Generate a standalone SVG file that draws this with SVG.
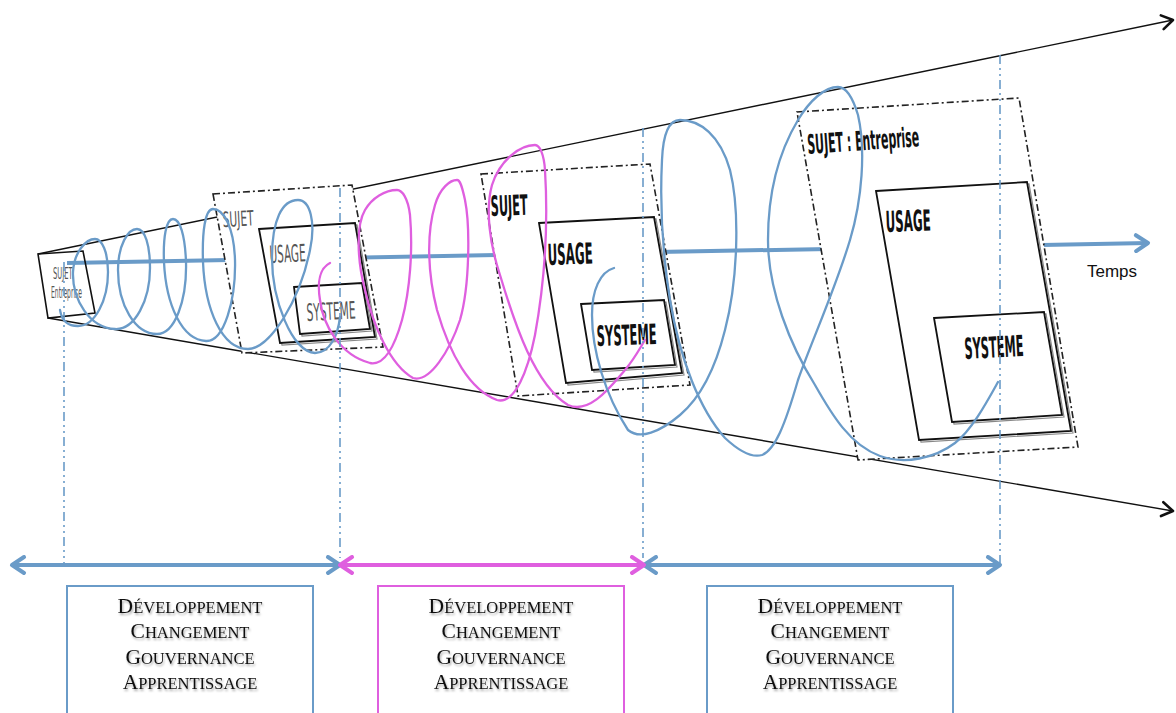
<svg xmlns="http://www.w3.org/2000/svg" width="1176" height="713" viewBox="0 0 1176 713">
<style>
.cone{fill:none;stroke:#111;stroke-width:1.4}
.axis{fill:none;stroke:#6a9bc8;stroke-width:4}
.outer{fill:#fff;stroke:#222;stroke-width:1.6;stroke-dasharray:7 3 2 3}
.inner{fill:#fff;stroke:#111;stroke-width:1.8}
.innersh{fill:none;stroke:#888;stroke-width:1.2}
.lbl{font-family:'DejaVu Sans Condensed','DejaVu Sans',sans-serif;font-stretch:condensed;fill:#111;font-weight:bold}
.lblg{font-family:'DejaVu Sans Condensed','DejaVu Sans',sans-serif;font-stretch:condensed;fill:#555}
.coilb{fill:none;stroke:#6a9bc8;stroke-width:2.3;stroke-linecap:round}
.coilm{fill:none;stroke:#df5fdf;stroke-width:2.3;stroke-linecap:round}
.vl{fill:none;stroke:#6a9bc8;stroke-width:1.6;stroke-dasharray:9 4 2 4 2 4}
.barb{fill:none;stroke:#6a9bc8;stroke-width:4}
.barm{fill:none;stroke:#df5fdf;stroke-width:4}
.boxb{fill:#fff;stroke:#6a9bc8;stroke-width:2}
.boxm{fill:#fff;stroke:#df5fdf;stroke-width:2}
.sc{font-family:'Liberation Serif','Times New Roman',serif;font-size:16.5px;fill:#111;filter:url(#tsh)}
.temps{font-family:'Liberation Sans',Arial,sans-serif;font-size:17px;fill:#111}
</style>
<defs>
<filter id="tsh" x="-10%" y="-30%" width="120%" height="160%">
<feDropShadow dx="1" dy="2" stdDeviation="1.3" flood-color="#000" flood-opacity="0.35"/>
</filter>
<marker id="ahB" markerUnits="userSpaceOnUse" markerWidth="20" markerHeight="20" refX="15" refY="10" orient="auto-start-reverse" viewBox="0 0 20 20">
<path d="M3,2 L15,10 L3,18" fill="none" stroke="#6a9bc8" stroke-width="4" stroke-linecap="round" stroke-linejoin="round"/>
</marker>
<marker id="ahM" markerUnits="userSpaceOnUse" markerWidth="20" markerHeight="20" refX="15" refY="10" orient="auto-start-reverse" viewBox="0 0 20 20">
<path d="M3,2 L15,10 L3,18" fill="none" stroke="#df5fdf" stroke-width="4" stroke-linecap="round" stroke-linejoin="round"/>
</marker>
<marker id="ahK" markerUnits="userSpaceOnUse" markerWidth="18" markerHeight="18" refX="14" refY="9" orient="auto" viewBox="0 0 18 18">
<path d="M3,2 L14,9 L3,16" fill="none" stroke="#111" stroke-width="2.6" stroke-linecap="round" stroke-linejoin="round"/>
</marker>
</defs>
<rect width="1176" height="713" fill="#fff"/>

<g id="connectors">
<path class="cone" d="M38,254 L1173,20" marker-end="url(#ahK)"/>
<path class="cone" d="M48,318 L1173,511" marker-end="url(#ahK)"/>
<path class="axis" d="M67,263 L1148,243" marker-end="url(#ahB)"/>
</g>

<g id="node-sujet-small">
<polygon points="38,254 83,251 95,313 48,318" fill="none" stroke="#111" stroke-width="1.6"/>
<text class="lblg" x="53" y="279" font-size="15" textLength="21" lengthAdjust="spacingAndGlyphs" fill="#888">SUJET:</text>
<text class="lblg" x="51" y="298" font-size="15" textLength="31" lengthAdjust="spacingAndGlyphs" fill="#888">Entreprise</text>
</g>

<g id="node-box2">
<polygon class="outer" points="213,194 352,185 383,347 242,353"/>
<polygon class="innersh" points="261,231 357,225 377,339 282,345"/>
<polygon class="inner" points="259,229 355,223 375,337 280,343"/>
<polygon class="innersh" points="296,289 364,285 372,331 302,336"/>
<polygon class="inner" points="294,287 362,283 370,329 300,334"/>
<text class="lblg" x="223" y="227" font-size="21" textLength="31" lengthAdjust="spacingAndGlyphs" transform="rotate(-3 223 227)">SUJET</text>
<text class="lblg" x="270" y="263" font-size="24" textLength="36" lengthAdjust="spacingAndGlyphs" transform="rotate(-3 270 263)">USAGE</text>
<text class="lblg" x="307" y="321" font-size="24" textLength="49" lengthAdjust="spacingAndGlyphs" fill="#333" transform="rotate(-3 307 321)">SYSTEME</text>
</g>

<g id="node-box3">
<polygon class="outer" points="481,174 650,164 690,385 518,396"/>
<polygon class="innersh" points="541,225 656,219 684,375 568,385"/>
<polygon class="inner" points="539,223 654,217 682,373 566,383"/>
<polygon class="innersh" points="583,306 666,302 677,367 594,372"/>
<polygon class="inner" points="581,304 664,300 675,365 592,370"/>
<text class="lbl" x="491" y="216" font-size="28" textLength="37" lengthAdjust="spacingAndGlyphs" transform="rotate(-2 491 216)">SUJET</text>
<text class="lbl" x="548" y="265" font-size="29" textLength="45" lengthAdjust="spacingAndGlyphs" transform="rotate(-2 548 265)">USAGE</text>
<text class="lbl" x="597" y="346" font-size="28" textLength="60" lengthAdjust="spacingAndGlyphs" transform="rotate(-2 597 346)">SYSTEME</text>
</g>

<g id="node-box4">
<polygon class="outer" points="797,112 1019,98 1078,447 858,460"/>
<polygon class="innersh" points="878,193 1029,184 1073,433 921,442"/>
<polygon class="inner" points="876,191 1027,182 1071,431 919,440"/>
<polygon class="innersh" points="936,320 1046,314 1064,417 954,424"/>
<polygon class="inner" points="934,318 1044,312 1062,415 952,422"/>
<text class="lbl" x="808" y="154" font-size="27" textLength="112" lengthAdjust="spacingAndGlyphs" transform="rotate(-4 808 154)">SUJET : Entreprise</text>
<text class="lbl" x="886" y="232" font-size="29" textLength="45" lengthAdjust="spacingAndGlyphs" transform="rotate(-2 886 232)">USAGE</text>
<text class="lbl" x="965" y="359" font-size="29" textLength="59" lengthAdjust="spacingAndGlyphs" transform="rotate(-3 965 359)">SYSTEME</text>
</g>

<g id="coils">
<path class="coilb" d="M60,310 C62,322 68,326 78,326 C95,326 108,300 108,272 C108,252 102,239 95,239 C86,239 74,252 73,272 C72,300 90,328 115,329 C135,330 150,300 150,268 C150,245 145,229 137,229 C128,229 118,245 118,270 C118,305 135,334 157,334 C175,334 187,300 186,262 C185,235 180,219 173,219 C166,219 163,238 164,262 C166,305 182,340 206,341 C224,342 236,300 235,260 C234,228 224,209 213,209 C205,209 202,232 203,262 C205,310 222,349 248,349 C270,349 300,300 310,250 C316,222 310,200 298,200 C282,200 272,220 272,258 C272,300 292,352 315,353 C330,353 338,335 340,317"/>
<path class="coilm" d="M330,263 C320,268 317,282 320,300 C323,325 340,355 370,363 C385,366 395,345 402,320 C410,290 413,250 410,215 C408,198 402,190 397,190 C385,190 372,198 365,210 C356,225 357,260 365,290 C373,325 390,365 413,378 C430,383 450,350 460,320 C470,285 470,225 465,200 C462,186 460,180 457,180 C450,180 440,188 435,205 C426,235 428,275 437,310 C450,355 470,390 497,400 C515,405 528,370 535,335 C545,280 548,220 545,170 C544,155 540,145 535,145 C520,145 500,160 492,185 C485,210 490,245 500,275 C515,325 535,385 568,405 C590,415 612,385 625,370 C635,358 640,348 645,340"/>
<path class="coilb" d="M614,268 C600,272 592,290 592,315 C592,350 605,395 628,430 C640,440 660,432 680,415 C700,398 715,370 725,330 C738,280 740,210 730,170 C720,135 700,120 680,120 C668,120 663,135 662,160 C660,200 662,250 670,300 C680,360 700,410 725,438 C740,452 752,458 762,455 C775,450 785,425 798,380 C812,340 835,290 850,240 C862,200 866,150 858,115 C852,95 845,87 838,87 C825,87 810,100 798,120 C780,150 768,190 768,240 C768,290 790,345 815,385 C832,415 850,445 880,456 C905,465 935,458 955,443 C972,430 988,400 998,382"/>
</g>

<g id="phase-lines">
<path class="vl" d="M64,262 L64,566"/>
<path class="vl" d="M340,188 L340,558"/>
<path class="vl" d="M643,128 L643,558"/>
<path class="vl" d="M1000,55 L1000,566"/>
</g>

<g id="phase-arrows">
<path class="barb" d="M12,565 L340,565" marker-start="url(#ahB)" marker-end="url(#ahB)"/>
<path class="barb" d="M644,565 L1000,565" marker-start="url(#ahB)" marker-end="url(#ahB)"/>
<path class="barm" d="M340,565 L644,565" marker-start="url(#ahM)" marker-end="url(#ahM)"/>
</g>

<g id="node-temps">
<text class="temps" x="1087" y="277">Temps</text>
</g>

<g id="node-phase1">
<rect class="boxb" x="67" y="586" width="246" height="140"/>
<text class="sc" x="190" y="613" text-anchor="middle"><tspan font-size="21.5">D</tspan>ÉVELOPPEMENT</text>
<text class="sc" x="190" y="638" text-anchor="middle"><tspan font-size="21.5">C</tspan>HANGEMENT</text>
<text class="sc" x="190" y="664" text-anchor="middle"><tspan font-size="21.5">G</tspan>OUVERNANCE</text>
<text class="sc" x="190" y="689" text-anchor="middle"><tspan font-size="21.5">A</tspan>PPRENTISSAGE</text>
</g>
<g id="node-phase2">
<rect class="boxm" x="378" y="586" width="246" height="140"/>
<text class="sc" x="501" y="613" text-anchor="middle"><tspan font-size="21.5">D</tspan>ÉVELOPPEMENT</text>
<text class="sc" x="501" y="638" text-anchor="middle"><tspan font-size="21.5">C</tspan>HANGEMENT</text>
<text class="sc" x="501" y="664" text-anchor="middle"><tspan font-size="21.5">G</tspan>OUVERNANCE</text>
<text class="sc" x="501" y="689" text-anchor="middle"><tspan font-size="21.5">A</tspan>PPRENTISSAGE</text>
</g>
<g id="node-phase3">
<rect class="boxb" x="707" y="586" width="246" height="140"/>
<text class="sc" x="830" y="613" text-anchor="middle"><tspan font-size="21.5">D</tspan>ÉVELOPPEMENT</text>
<text class="sc" x="830" y="638" text-anchor="middle"><tspan font-size="21.5">C</tspan>HANGEMENT</text>
<text class="sc" x="830" y="664" text-anchor="middle"><tspan font-size="21.5">G</tspan>OUVERNANCE</text>
<text class="sc" x="830" y="689" text-anchor="middle"><tspan font-size="21.5">A</tspan>PPRENTISSAGE</text>
</g>
</svg>
